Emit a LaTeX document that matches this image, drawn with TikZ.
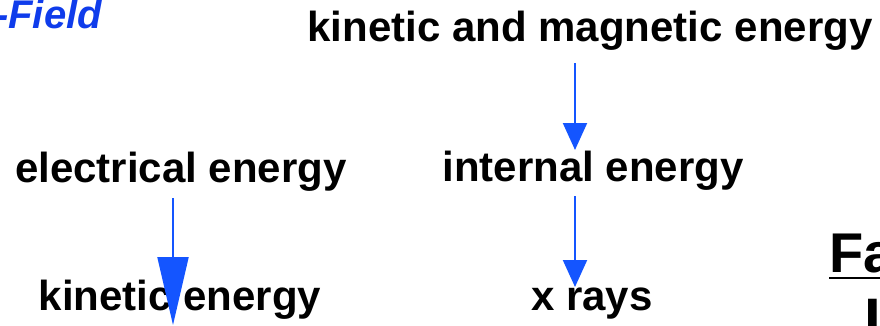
\documentclass[tikz,border=0pt]{standalone}
\usepackage{fontspec}
\setmainfont{Liberation Sans}
\usetikzlibrary{arrows.meta}
\definecolor{arrblue}{RGB}{20,85,255}
\definecolor{txtblue}{RGB}{15,60,235}
\tikzset{
  lbl/.style={inner sep=0pt, anchor=base, font=\fontsize{42}{50}\selectfont\bfseries},
  arr/.style={draw=arrblue, line width=2pt, -{Triangle[length=27pt,width=24pt]}, arrblue},
  bigarr/.style={draw=arrblue, line width=2pt, -{Triangle[length=68pt,width=31pt]}, arrblue}
}
\begin{document}
\begin{tikzpicture}[x=1pt,y=-1pt]
\useasboundingbox (0,0) rectangle (880,325);
\node[inner sep=0pt, anchor=base east, text=txtblue, font=\fontsize{40}{46}\selectfont\bfseries\itshape] (fld) at (102,28) {-Field};
\node[lbl] (kme) at (590,41) {kinetic and magnetic energy};
\node[lbl] (ee) at (181,182) {electrical energy};
\node[lbl] (ie) at (593,181) {internal energy};
\node[lbl] (ke) at (180,310) {kinetic energy};
\node[lbl] (xr) at (592,310) {x rays};
\node[inner sep=0pt, anchor=base west, font=\fontsize{56}{66}\selectfont\bfseries] (fa) at (829,272) {Fa};
\draw[line width=2.5pt] ([yshift=-6pt]fa.base west) -- ([yshift=-6pt,xshift=70pt]fa.base west);
\node[inner sep=0pt, anchor=base west, font=\fontsize{60}{70}\selectfont\bfseries] (ii) at (864,340) {I};
\draw[arr] ([xshift=-15pt,yshift=-22pt]kme.base) -- ([xshift=-18pt,yshift=31pt]ie.base);
\draw[arr] ([xshift=-18pt,yshift=-15pt]ie.base) -- ([xshift=-17pt,yshift=23pt]xr.base);
\draw[bigarr] ([xshift=-8pt,yshift=-16pt]ee.base) -- ([xshift=-7pt,yshift=-15pt]ke.base);
\end{tikzpicture}
\end{document}
